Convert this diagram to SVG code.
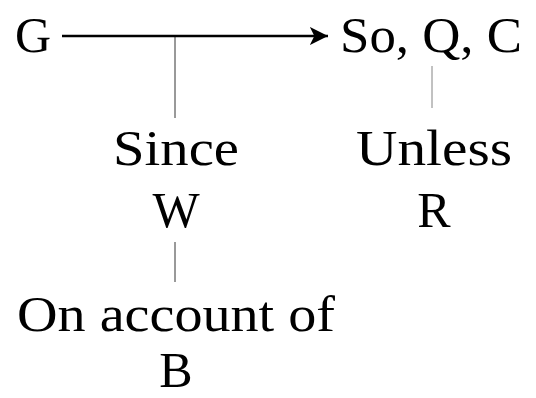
<svg xmlns="http://www.w3.org/2000/svg" width="536" height="398" viewBox="0 0 536 398">
<style>
  text { font-family: "Liberation Serif", "Times New Roman", serif; font-size: 50px; fill: #000; text-anchor: middle; }
  .main { stroke: #000; stroke-width: 2.6; fill: none; }
  .thin { stroke: #000; stroke-width: 0.8; fill: none; }
  .gray { stroke: #666; stroke-width: 0.8; fill: none; }
</style>
<defs>
  <marker id="stealth" viewBox="0 0 10 10" refX="10" refY="5" markerWidth="7" markerHeight="7" markerUnits="strokeWidth" orient="auto">
    <path d="M0,0 L10,5 L0,10 L2.5,5 Z" fill="#000"/>
  </marker>
</defs>
<g id="connectors">
  <line class="main" x1="62" y1="36" x2="328" y2="36" marker-end="url(#stealth)"/>
  <line class="thin" x1="175" y1="36" x2="175" y2="118"/>
  <line class="thin" x1="175" y1="242" x2="175" y2="282"/>
  <line class="gray" x1="432" y1="66" x2="432" y2="108"/>
</g>
<g id="grounds"><text x="33" y="52">G</text></g>
<g id="claim"><text x="431" y="52" textLength="182" lengthAdjust="spacingAndGlyphs">So, Q, C</text></g>
<g id="warrant">
  <text x="176" y="165" textLength="126" lengthAdjust="spacingAndGlyphs">Since</text>
  <text x="176" y="227">W</text>
</g>
<g id="rebuttal">
  <text x="434" y="165" textLength="156" lengthAdjust="spacingAndGlyphs">Unless</text>
  <text x="434" y="227">R</text>
</g>
<g id="backing">
  <text x="176" y="331" textLength="318" lengthAdjust="spacingAndGlyphs">On account of</text>
  <text x="176" y="387">B</text>
</g>
</svg>
